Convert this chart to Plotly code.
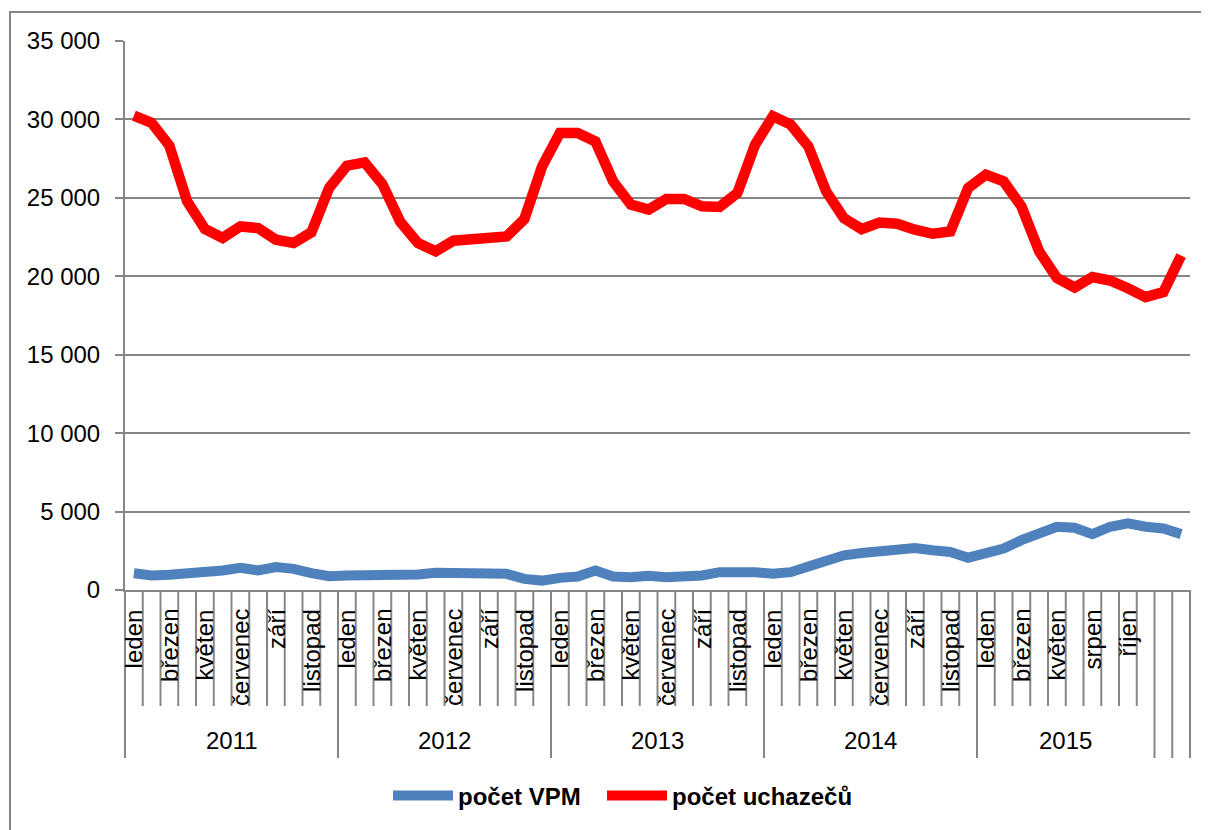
import plotly.graph_objects as go

# ---------------- data ----------------
months_full = ["leden", "únor", "březen", "duben", "květen", "červen",
               "červenec", "srpen", "září", "říjen", "listopad", "prosinec"]
months_2015 = ["leden", "únor", "březen", "duben", "květen", "červen",
               "srpen", "září", "říjen", "listopad"]

year_groups = ["2011", "2012", "2013", "2014", "2015", "", ""]
group_months = [months_full, months_full, months_full, months_full,
                months_2015, [""], [""]]

vpm = [1073, 923, 966, 1030, 1200, 1245, 1416, 1245, 1460, 1350, 1073, 880,
       923, 923, 923, 923, 987, 1095, 1095, 1050, 987, 1030, 708, 600,
       773, 858, 1245, 858, 815, 900, 815, 858, 923, 1137, 1180, 1137,
       1030, 1137, 1502, 1888, 2210, 2360, 2468, 2532, 2680, 2532, 2425, 2060,
       2318, 2640, 3176, 3605, 4034, 3970, 3562, 4034, 4249, 4034, 3927, 3562]

uchazeci = [30240, 29780, 28330, 24780, 23015, 22440, 23180, 23075, 22330, 22120, 22800, 25630,
            27050, 27260, 25880, 23490, 22120, 21590, 22270, 22330, 22540, 22540, 23650, 27010,
            29140, 29140, 28600, 26050, 24570, 24250, 24930, 24930, 24460, 24420, 25310, 28390,
            30200, 29670, 28280, 25410, 23710, 23010, 23430, 23350, 22970, 22710, 22860, 25630,
            26480, 26050, 24460, 21590, 19890, 19290, 19950, 19730, 19240, 18670, 18990, 21320]

y_tick_vals = [0, 5000, 10000, 15000, 20000, 25000, 30000, 35000]
y_tick_text = ["0", "5 000", "10 000", "15 000", "20 000", "25 000", "30 000", "35 000"]

series_names = ["počet VPM", "počet uchazečů"]
series_colors = ["#4F81BD", "#FF0000"]

# ---------------- layout geometry ----------------
# page is rendered with an 8px body margin: figure coords = page coords - 8
OFF = 8
W, H = 1209 - OFF, 830 - OFF
L, R, T, B = 125, 1190, 41, 590          # plot area in page pixels
pw, ph = R - L, B - T


def py(y_px):
    return (B - y_px) / ph


def pxp(x_px):
    return (x_px - L) / pw


# flat category list
categories = []
group_bounds = [0]
for yr, ms in zip(year_groups, group_months):
    categories.extend(ms)
    group_bounds.append(group_bounds[-1] + len(ms))
n = len(categories)
xs = list(range(n))

grid_col = "#868686"
FONT = "Liberation Sans"

fig = go.Figure()
fig.add_trace(go.Scatter(x=xs, y=vpm, mode="lines", name=series_names[0],
                         line=dict(color=series_colors[0], width=10),
                         legend="legend"))
fig.add_trace(go.Scatter(x=xs, y=uchazeci, mode="lines", name=series_names[1],
                         line=dict(color=series_colors[1], width=10.5),
                         legend="legend2"))

shapes = []
# category boundary lines
for k in range(n + 1):
    long_line = k in group_bounds
    shapes.append(dict(type="line", xref="paper", yref="paper",
                       x0=k / n, x1=k / n, y0=0, y1=py(758 if long_line else 706),
                       line=dict(color=grid_col, width=2), layer="below"))
# outer border (partially cropped)
shapes.append(dict(type="rect", xref="paper", yref="paper",
                   x0=pxp(10), x1=pxp(1225), y0=py(12), y1=py(845),
                   line=dict(color=grid_col, width=2), fillcolor="rgba(0,0,0,0)"))

annotations = []
# month labels at every other category
for i, m in enumerate(categories):
    if i % 2 == 0 and m:
        annotations.append(dict(x=i, y=py(607), xref="x", yref="paper",
                                text=m, textangle=-90, showarrow=False,
                                xanchor="center", yanchor="top",
                                font=dict(family=FONT, size=24, color="black")))
# year labels
for g, yr in enumerate(year_groups):
    if yr:
        mid = (group_bounds[g] + group_bounds[g + 1] - 1) / 2
        annotations.append(dict(x=mid, y=py(740), xref="x", yref="paper",
                                text=yr, showarrow=False,
                                xanchor="center", yanchor="middle",
                                font=dict(family=FONT, size=24, color="black")))

legend_common = dict(orientation="h", xanchor="left", yanchor="middle",
                     y=py(796),
                     font=dict(family=FONT, size=24, color="black", weight="bold"),
                     itemwidth=60, bgcolor="rgba(0,0,0,0)")

fig.update_layout(
    width=W, height=H,
    margin=dict(l=L - OFF, r=W - (R - OFF), t=T - OFF, b=H - (B - OFF), pad=0),
    paper_bgcolor="white", plot_bgcolor="white",
    font=dict(family=FONT, size=24, color="black"),
    shapes=shapes, annotations=annotations,
    showlegend=True,
    legend=dict(x=pxp(388), **legend_common),
    legend2=dict(x=pxp(602), **legend_common),
    xaxis=dict(range=[-0.5, n - 0.5], showticklabels=False, showgrid=False,
               zeroline=False, showline=True, linecolor=grid_col, linewidth=2,
               ticks=""),
    yaxis=dict(range=[0, 35000], tickvals=y_tick_vals, ticktext=y_tick_text,
               showgrid=True, gridcolor=grid_col, gridwidth=2, zeroline=False,
               showline=True, linecolor=grid_col, linewidth=2,
               ticks="outside", ticklen=8, tickcolor=grid_col, tickwidth=2,
               ticklabelstandoff=10,
               tickfont=dict(family=FONT, size=24, color="black")),
)

fig.write_html("out.html")
